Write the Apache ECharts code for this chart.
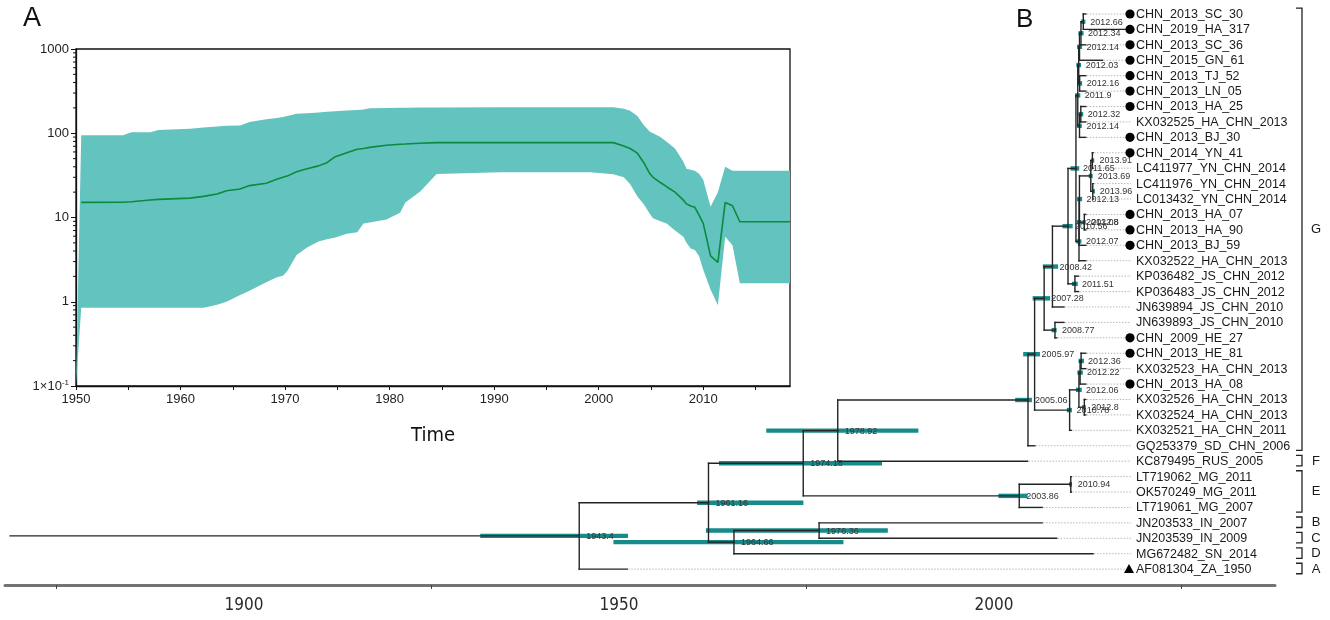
<!DOCTYPE html>
<html>
<head>
<meta charset="utf-8">
<script src="https://cdn.jsdelivr.net/npm/echarts@6/dist/echarts.min.js"></script>
<style>
  html, body { margin: 0; padding: 0; background: #fff; }
  #chart { width: 1330px; height: 620px; }
</style>
</head>
<body>
<div id="chart"></div>
<script>
// ---------- Panel A: Bayesian skyline (median and 95% HPD through time) ----------
const skyYears = [1950.0, 1950.5, 1954.5, 1955.3, 1957.1, 1957.9, 1960.9, 1962.2, 1963.5, 1964.4,
  1965.7, 1966.6, 1968.2, 1969.2, 1969.8, 1970.2, 1971.1, 1972.1, 1973.2, 1974.0,
  1974.8, 1975.9, 1976.9, 1977.5, 1978.1, 1979.7, 1981.0, 1981.5, 1982.9, 1984.5,
  1990.6, 1999.2, 2001.4, 2002.4, 2003.0, 2003.7, 2004.3, 2004.9, 2005.2, 2005.9,
  2006.5, 2007.3, 2008.1, 2008.4, 2008.8, 2009.2, 2009.6, 2010.0, 2010.7, 2011.4,
  2012.1, 2012.8, 2013.5, 2018.3];
const skyLower = [0.1, 0.85, 0.85, 0.85, 0.85, 0.85, 0.85, 0.85, 0.92, 1.0,
  1.2, 1.35, 1.7, 1.95, 2.04, 2.3, 3.6, 4.4, 5.2, 5.5,
  5.8, 6.4, 6.7, 8.5, 8.7, 9.5, 11.4, 15.1, 20.2, 32.8,
  34.4, 34.4, 32.5, 30, 25, 17.7, 14.5, 11, 9.8, 9.0,
  8.5, 7.0, 5.9, 5.0, 4.3, 4.1, 3.5, 2.4, 1.4, 0.91,
  5.9, 4.7, 1.66, 1.66];
const skyMedian = [null, 15.1, 15.2, 15.4, 16.1, 16.4, 17.0, 17.8, 19.0, 20.8,
  21.8, 23.9, 25.5, 28.4, 30, 31, 35, 38, 41, 44.8,
  52.7, 58.8, 64.5, 66, 68, 72, 74, 74.5, 76, 77.5,
  77.5, 77.5, 77.4, 70.7, 66, 58, 45, 33, 30, 26,
  23.2, 20, 16.1, 14.5, 13.7, 13.2, 10.7, 8.5, 3.5, 2.94,
  15.1, 13.8, 8.9, 8.9];
const skyUpper = [0.1, 95, 95, 103, 103, 109, 113, 117, 120, 123,
  124, 136, 147, 152, 156, 160, 170, 173, 176, 180,
  183, 186, 189, 192, 198, 199, 201, 201, 202, 202,
  203, 203, 203, 195, 185, 160, 125, 104, 100, 90,
  79, 66, 46, 38, 37, 36, 33, 28, 13.4, 20,
  40, 36, 36, 36];
// minor ticks of the log axis (2..9 within each decade)
const skyMinorTicks = [];
for (let k = -1; k < 3; k++) for (let m = 2; m <= 9; m++) skyMinorTicks.push(m * Math.pow(10, k));

// ---------- Panel B: time-scaled phylogeny ----------
const tipNames = ['CHN_2013_SC_30', 'CHN_2019_HA_317', 'CHN_2013_SC_36', 'CHN_2015_GN_61', 'CHN_2013_TJ_52',
  'CHN_2013_LN_05', 'CHN_2013_HA_25', 'KX032525_HA_CHN_2013', 'CHN_2013_BJ_30', 'CHN_2014_YN_41',
  'LC411977_YN_CHN_2014', 'LC411976_YN_CHN_2014', 'LC013432_YN_CHN_2014', 'CHN_2013_HA_07', 'CHN_2013_HA_90',
  'CHN_2013_BJ_59', 'KX032522_HA_CHN_2013', 'KP036482_JS_CHN_2012', 'KP036483_JS_CHN_2012', 'JN639894_JS_CHN_2010',
  'JN639893_JS_CHN_2010', 'CHN_2009_HE_27', 'CHN_2013_HE_81', 'KX032523_HA_CHN_2013', 'CHN_2013_HA_08',
  'KX032526_HA_CHN_2013', 'KX032524_HA_CHN_2013', 'KX032521_HA_CHN_2011', 'GQ253379_SD_CHN_2006', 'KC879495_RUS_2005',
  'LT719062_MG_2011', 'OK570249_MG_2011', 'LT719061_MG_2007', 'JN203533_IN_2007', 'JN203539_IN_2009',
  'MG672482_SN_2014', 'AF081304_ZA_1950'];
const tipDates = [2013.0, 2019.0, 2013.0, 2015.3, 2013.0,
  2013.0, 2013.0, 2013.0, 2013.0, 2014.0,
  2014.0, 2014.0, 2014.0, 2013.0, 2013.0,
  2013.0, 2013.0, 2012.0, 2012.0, 2010.0,
  2010.0, 2009.0, 2013.0, 2013.0, 2013.0,
  2013.0, 2013.0, 2011.0, 2006.0, 2005.0,
  2011.0, 2011.0, 2007.0, 2007.0, 2009.0,
  2014.0, 1950.0];
// 'circle' = sequences from this study, 'triangle' = reference strain
const tipMarkers = tipNames.map(n => n.startsWith('CHN_') ? 'circle' : (n === 'AF081304_ZA_1950' ? 'triangle' : ''));

// internal nodes n1..n36 (children listed before parents)
const nodeChildren = [
  ['CHN_2013_SC_30', 'CHN_2019_HA_317'],            // n1
  ['n1', 'CHN_2013_SC_36'],                          // n2
  ['n2', 'CHN_2015_GN_61'],                          // n3
  ['CHN_2013_TJ_52', 'CHN_2013_LN_05'],              // n4
  ['n3', 'n4'],                                      // n5
  ['CHN_2013_HA_25', 'KX032525_HA_CHN_2013'],        // n6
  ['n6', 'CHN_2013_BJ_30'],                          // n7
  ['n5', 'n7'],                                      // n8
  ['CHN_2014_YN_41', 'LC411977_YN_CHN_2014'],        // n9
  ['LC411976_YN_CHN_2014', 'LC013432_YN_CHN_2014'],  // n10
  ['n9', 'n10'],                                     // n11
  ['CHN_2013_HA_07', 'CHN_2013_HA_90'],              // n12
  ['n11', 'n12'],                                    // n13
  ['n13', 'CHN_2013_BJ_59'],                         // n14
  ['n14', 'KX032522_HA_CHN_2013'],                   // n15
  ['n8', 'n15'],                                     // n16
  ['KP036482_JS_CHN_2012', 'KP036483_JS_CHN_2012'],  // n17
  ['n16', 'n17'],                                    // n18
  ['n18', 'JN639894_JS_CHN_2010'],                   // n19
  ['JN639893_JS_CHN_2010', 'CHN_2009_HE_27'],        // n20
  ['n19', 'n20'],                                    // n21
  ['CHN_2013_HE_81', 'KX032523_HA_CHN_2013'],        // n22
  ['n22', 'CHN_2013_HA_08'],                         // n23
  ['KX032526_HA_CHN_2013', 'KX032524_HA_CHN_2013'],  // n24
  ['n23', 'n24'],                                    // n25
  ['n25', 'KX032521_HA_CHN_2011'],                   // n26
  ['n21', 'n26'],                                    // n27
  ['n27', 'GQ253379_SD_CHN_2006'],                   // n28
  ['n28', 'KC879495_RUS_2005'],                      // n29
  ['LT719062_MG_2011', 'OK570249_MG_2011'],          // n30
  ['n30', 'LT719061_MG_2007'],                       // n31
  ['n29', 'n31'],                                    // n32
  ['JN203533_IN_2007', 'JN203539_IN_2009'],          // n33
  ['n33', 'MG672482_SN_2014'],                       // n34
  ['n32', 'n34'],                                    // n35
  ['n35', 'AF081304_ZA_1950']                        // n36 (root)
];
const nodeDates = [2012.66, 2012.34, 2012.14, 2012.16, 2012.03, 2012.32, 2012.14, 2011.9, 2013.91, 2013.96,
  2013.69, 2012.8, 2012.13, 2012.08, 2012.07, 2011.65, 2011.51, 2010.56, 2008.42, 2008.77,
  2007.28, 2012.36, 2012.22, 2012.8, 2012.06, 2010.78, 2005.97, 2005.06, 1978.92, 2010.94,
  2003.86, 1974.18, 1976.36, 1964.66, 1961.16, 1943.4];
const nodeHpdLow = [2012.35, 2012.0, 2011.8, 2011.85, 2011.7, 2012.0, 2011.8, 2011.55, 2013.75, 2013.85,
  2013.4, 2012.55, 2011.8, 2011.75, 2011.7, 2010.9, 2011.1, 2009.8, 2007.1, 2008.3,
  2005.7, 2012.0, 2011.85, 2012.5, 2011.65, 2010.4, 2004.4, 2003.3, 1969.1, 2010.7,
  2001.0, 1962.6, 1960.8, 1948.1, 1959.6, 1929.8];
const nodeHpdHigh = [2012.95, 2012.7, 2012.5, 2012.5, 2012.35, 2012.65, 2012.45, 2012.25, 2014.0, 2014.0,
  2013.95, 2013.0, 2012.5, 2012.4, 2012.4, 2012.1, 2011.9, 2011.2, 2009.2, 2009.0,
  2008.1, 2012.75, 2012.6, 2013.0, 2012.45, 2011.1, 2006.7, 2005.6, 1990.0, 2011.0,
  2005.0, 1985.0, 1985.8, 1979.7, 1974.2, 1950.1];
const rootStart = 1865.2;

const cladeNames = ['G', 'F', 'E', 'B', 'C', 'D', 'A'];
const cladeFirstTip = ['CHN_2013_SC_30', 'KC879495_RUS_2005', 'LT719062_MG_2011', 'JN203533_IN_2007', 'JN203539_IN_2009', 'MG672482_SN_2014', 'AF081304_ZA_1950'];
const cladeLastTip = ['GQ253379_SD_CHN_2006', 'KC879495_RUS_2005', 'LT719061_MG_2007', 'JN203533_IN_2007', 'JN203539_IN_2009', 'MG672482_SN_2014', 'AF081304_ZA_1950'];

const scaleLabelYears = [1900, 1950, 2000];
const scaleTickYears = [1875, 1925, 1975, 2025];

// ---------- layout of the tree (rectangular, node row = midpoint of children) ----------
const nodeIds = nodeChildren.map((_, i) => 'n' + (i + 1));
const tipIndex = {}; tipNames.forEach((n, i) => { tipIndex[n] = i; });
const nodeIndex = {}; nodeIds.forEach((n, i) => { nodeIndex[n] = i; });
const rowCache = {};
function rowOf(ref) {
  if (ref in tipIndex) return tipIndex[ref];
  if (ref in rowCache) return rowCache[ref];
  const c = nodeChildren[nodeIndex[ref]];
  return (rowCache[ref] = (rowOf(c[0]) + rowOf(c[1])) / 2);
}
function dateOf(ref) { return ref in tipIndex ? tipDates[tipIndex[ref]] : nodeDates[nodeIndex[ref]]; }
const parentDate = {};
nodeChildren.forEach((c, i) => { parentDate[c[0]] = nodeDates[i]; parentDate[c[1]] = nodeDates[i]; });
parentDate[nodeIds[nodeIds.length - 1]] = rootStart;

const branchSegs = [];
tipNames.forEach(n => branchSegs.push([parentDate[n], rowOf(n), dateOf(n), rowOf(n)]));
nodeIds.forEach((n, i) => {
  const r = rowOf(n), d = nodeDates[i], c = nodeChildren[i];
  branchSegs.push([parentDate[n], r, d, r]);
  branchSegs.push([d, rowOf(c[0]), d, rowOf(c[1])]);
});

const FONT = 'Liberation Sans, Arial, sans-serif';
const NARROW = 'Liberation Sans Narrow, DejaVu Sans Condensed, Liberation Sans, sans-serif';
const LABEL_X = 1136, MARKER_X = 1130;
const TEAL = '#168b89', LINE = '#242424';

const chart = echarts.init(document.getElementById('chart'), null, { renderer: 'canvas' });

chart.setOption({
  animation: false,
  backgroundColor: '#fff',
  textStyle: { fontFamily: FONT },
  graphic: [
    { type: 'text', left: 23, top: 5, style: { text: 'A', fontSize: 27, fill: '#111', fontFamily: FONT } },
    { type: 'text', left: 1016, top: 7, style: { text: 'B', fontSize: 26, fill: '#111', fontFamily: FONT } }
  ],
  grid: [
    { left: 76, top: 49, width: 714, height: 337, show: true, borderColor: '#111', borderWidth: 1.3, backgroundColor: 'transparent' },
    { left: 5, top: 14, width: 1270, height: 555.12, show: false },
    { left: 5, top: 583, width: 1270, height: 2, show: false }
  ],
  xAxis: [
    {
      gridIndex: 0, type: 'value', min: 1950, max: 2018.3, interval: 5,
      axisLine: { show: true, onZero: false, lineStyle: { color: '#111', width: 1.3 } },
      axisTick: { show: true, length: 4, lineStyle: { color: '#111', width: 1 } },
      axisLabel: { color: '#222', fontSize: 13, margin: 7, fontFamily: FONT,
        showMinLabel: true, showMaxLabel: false,
        formatter: v => (Math.abs(v % 10) < 1e-6 ? String(v) : '') },
      splitLine: { show: false },
      name: 'Time', nameLocation: 'middle', nameGap: 40,
      nameTextStyle: { fontSize: 20, color: '#111', fontFamily: NARROW }
    },
    { gridIndex: 1, type: 'value', min: 1864.5, max: 2039.0, show: false },
    {
      gridIndex: 2, type: 'value', min: 1868.133, max: 2037.467, position: 'bottom',
      axisLine: { show: true, onZero: false, lineStyle: { color: '#737373', width: 3 } },
      axisTick: { show: true, customValues: scaleTickYears, length: 4, lineStyle: { color: '#444', width: 1 } },
      axisLabel: { customValues: scaleLabelYears, color: '#2a2a2a', fontSize: 17, margin: 12,
        fontFamily: NARROW, formatter: v => String(Math.round(v)) },
      splitLine: { show: false }
    }
  ],
  yAxis: [
    {
      gridIndex: 0, type: 'log', logBase: 10, min: 0.1, max: 1000,
      axisLine: { show: true, onZero: false, lineStyle: { color: '#111', width: 1.3 } },
      axisTick: { show: true, length: 5, lineStyle: { color: '#111', width: 1 } },
      axisLabel: {
        color: '#222', fontSize: 13, margin: 7, fontFamily: FONT,
        formatter: v => (v < 0.5 ? '1×10{sup|-1}' : String(Math.round(v))),
        rich: { sup: { fontSize: 8, padding: [0, 0, 7, 0], color: '#222' } }
      },
      splitLine: { show: false }
    },
    { gridIndex: 1, type: 'value', min: 0, max: 36, inverse: true, show: false },
    { gridIndex: 2, type: 'value', show: false }
  ],
  series: [
    // 95% HPD band of the skyline
    {
      type: 'custom', xAxisIndex: 0, yAxisIndex: 0, silent: true, z: 1,
      data: [[skyYears[0], skyUpper[0]]],
      renderItem: (params, api) => {
        const pts = [];
        for (let i = 0; i < skyYears.length; i++) pts.push(api.coord([skyYears[i], skyUpper[i]]));
        for (let i = skyYears.length - 1; i >= 0; i--) pts.push(api.coord([skyYears[i], skyLower[i]]));
        return { type: 'polygon', shape: { points: pts }, style: { fill: '#63c3bf' } };
      }
    },
    // median of the skyline
    {
      type: 'line', xAxisIndex: 0, yAxisIndex: 0, silent: true, z: 3,
      symbol: 'none', smooth: false,
      lineStyle: { color: '#0c8a3d', width: 1.6 },
      data: skyYears.map((y, i) => [y, skyMedian[i]]).filter(p => p[1] !== null)
    },
    // minor ticks of the log axis
    {
      type: 'custom', xAxisIndex: 0, yAxisIndex: 0, silent: true, z: 4,
      data: skyMinorTicks.map(v => [1950, v]),
      renderItem: (params, api) => {
        const p = api.coord([api.value(0), api.value(1)]);
        return { type: 'line', shape: { x1: p[0] - 3, y1: p[1], x2: p[0], y2: p[1] }, style: { stroke: '#111', lineWidth: 1 } };
      }
    },
    // dotted leaders from tips to labels
    {
      type: 'custom', xAxisIndex: 1, yAxisIndex: 1, silent: true, z: 1,
      data: tipNames.map(n => [dateOf(n), rowOf(n)]),
      renderItem: (params, api) => {
        const p = api.coord([api.value(0), api.value(1)]);
        const end = tipMarkers[params.dataIndex] ? MARKER_X - 5 : LABEL_X - 5;
        if (p[0] >= end) return null;
        return { type: 'line', shape: { x1: p[0] + 1, y1: p[1], x2: end, y2: p[1] },
          style: { stroke: '#b8b8b8', lineWidth: 1, lineDash: [1.5, 1.5] } };
      }
    },
    // node age 95% HPD bars
    {
      type: 'custom', xAxisIndex: 1, yAxisIndex: 1, silent: true, z: 2,
      data: nodeIds.map((n, i) => [nodeHpdLow[i], rowOf(n), nodeHpdHigh[i]]),
      renderItem: (params, api) => {
        const a = api.coord([api.value(0), api.value(1)]);
        const b = api.coord([api.value(2), api.value(1)]);
        return { type: 'rect', shape: { x: a[0], y: a[1] - 2.2, width: Math.max(b[0] - a[0], 3), height: 4.4 },
          style: { fill: TEAL } };
      }
    },
    // branches
    {
      type: 'custom', xAxisIndex: 1, yAxisIndex: 1, silent: true, z: 3,
      encode: { x: [0, 2], y: [1, 3] },
      data: branchSegs,
      renderItem: (params, api) => {
        const a = api.coord([api.value(0), api.value(1)]);
        const b = api.coord([api.value(2), api.value(3)]);
        return { type: 'line', shape: { x1: a[0], y1: a[1], x2: b[0], y2: b[1] },
          style: { stroke: LINE, lineWidth: 1.4, lineCap: 'square' } };
      }
    },
    // node age labels
    {
      type: 'custom', xAxisIndex: 1, yAxisIndex: 1, silent: true, z: 5,
      data: nodeIds.map((n, i) => [nodeDates[i], rowOf(n)]),
      renderItem: (params, api) => {
        const p = api.coord([api.value(0), api.value(1)]);
        return { type: 'text', x: p[0] + 7, y: p[1] + 0.5,
          style: { text: String(nodeDates[params.dataIndex]), fill: '#333', fontSize: 9, fontFamily: FONT,
            align: 'left', verticalAlign: 'middle' } };
      }
    },
    // tip markers and names
    {
      type: 'custom', xAxisIndex: 1, yAxisIndex: 1, silent: true, z: 5,
      data: tipNames.map(n => [dateOf(n), rowOf(n)]),
      renderItem: (params, api) => {
        const y = api.coord([api.value(0), api.value(1)])[1];
        const i = params.dataIndex;
        const children = [{ type: 'text', x: LABEL_X, y: y + 0.5,
          style: { text: tipNames[i], fill: '#1a1a1a', fontSize: 12.5, fontFamily: FONT, align: 'left', verticalAlign: 'middle' } }];
        if (tipMarkers[i] === 'circle') {
          children.push({ type: 'circle', shape: { cx: MARKER_X, cy: y, r: 4.6 }, style: { fill: '#000' } });
        } else if (tipMarkers[i] === 'triangle') {
          children.push({ type: 'polygon', shape: { points: [[MARKER_X - 1, y - 5], [MARKER_X + 4, y + 4], [MARKER_X - 6, y + 4]] }, style: { fill: '#000' } });
        }
        return { type: 'group', children };
      }
    },
    // genotype brackets
    {
      type: 'custom', xAxisIndex: 1, yAxisIndex: 1, silent: true, z: 5,
      data: cladeNames.map((c, i) => [tipIndex[cladeFirstTip[i]], tipIndex[cladeLastTip[i]]]),
      renderItem: (params, api) => {
        const y1 = api.coord([1950, api.value(0) - 0.38])[1];
        const y2 = api.coord([1950, api.value(1) + 0.3])[1];
        const bx = 1302;
        return { type: 'group', children: [
          { type: 'polyline', shape: { points: [[bx - 6, y1], [bx, y1], [bx, y2], [bx - 6, y2]] },
            style: { stroke: '#222', lineWidth: 1.3, fill: null } },
          { type: 'text', x: 1316, y: (y1 + y2) / 2 + 0.5,
            style: { text: cladeNames[params.dataIndex], fill: '#1a1a1a', fontSize: 13, fontFamily: FONT, align: 'center', verticalAlign: 'middle' } }
        ] };
      }
    }
  ]
});
</script>
</body>
</html>
